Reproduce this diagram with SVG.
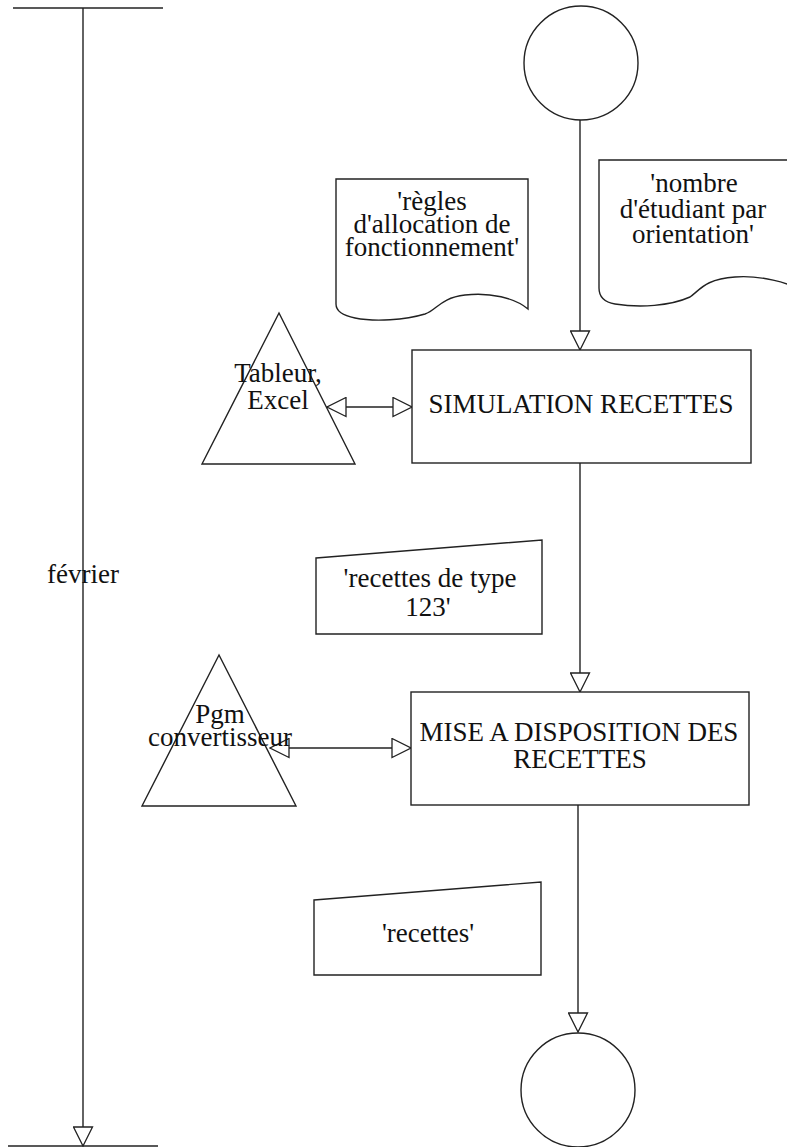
<svg xmlns="http://www.w3.org/2000/svg" width="787" height="1147" viewBox="0 0 787 1147">
<defs>
<marker id="arr" viewBox="-1 -1 21 21" refX="19" refY="9.5" markerWidth="21" markerHeight="21" orient="auto-start-reverse" markerUnits="userSpaceOnUse">
<path d="M0,0 L19,9.5 L0,19 Z" fill="#fff" stroke="#222" stroke-width="1.3"/>
</marker>
</defs>
<style>
.s{fill:#fff;stroke:#222;stroke-width:1.4}
.l{fill:none;stroke:#222;stroke-width:1.4}
text{font-family:"Liberation Serif","Times New Roman",serif;font-size:27px;fill:#111;text-anchor:middle}
</style>
<rect width="787" height="1147" fill="#fff"/>
<g id="connectors">
<line class="l" x1="13" y1="8" x2="163" y2="8"/>
<line class="l" x1="8" y1="1146" x2="158" y2="1146"/>
<line class="l" x1="83" y1="8" x2="83" y2="1146" marker-end="url(#arr)"/>
<line class="l" x1="580" y1="120" x2="580" y2="350" marker-end="url(#arr)"/>
<line class="l" x1="327" y1="407" x2="412" y2="407" marker-start="url(#arr)" marker-end="url(#arr)"/>
<line class="l" x1="580" y1="463" x2="580" y2="692" marker-end="url(#arr)"/>
<line class="l" x1="270" y1="748" x2="411" y2="748" marker-start="url(#arr)" marker-end="url(#arr)"/>
<line class="l" x1="578" y1="805" x2="578" y2="1032" marker-end="url(#arr)"/>
</g>
<g id="timeline-label"><text x="83" y="583">février</text></g>
<g id="start"><circle class="s" cx="581" cy="63" r="57"/></g>
<g id="doc-regles">
<path class="s" d="M336,179 H528 V309 C515,298 490,292 465,295 C440,298 437,310 425,314 C405,320 375,322 355,318 C340,315 336,310 336,304 Z"/>
<text x="432" y="210">'règles</text>
<text x="432" y="233">d'allocation de</text>
<text x="432" y="256">fonctionnement'</text>
</g>
<g id="doc-nombre">
<path class="s" d="M599,160 H800 V290 C790,283 760,275 735,277 C705,279 700,290 690,297 C670,306 640,308 615,304 C603,302 599,296 599,288 Z"/>
<text x="694" y="192">'nombre</text>
<text x="693" y="218">d'étudiant par</text>
<text x="693" y="243">orientation'</text>
</g>
<g id="tool-tableur">
<polygon class="s" points="279,313 202,464 355,464"/>
<text x="278" y="382">Tableur,</text>
<text x="278" y="409">Excel</text>
</g>
<g id="simulation">
<rect class="s" x="412" y="350" width="339" height="113"/>
<text x="581" y="413">SIMULATION RECETTES</text>
</g>
<g id="data-123">
<polygon class="s" points="316,558 542,540 542,634 316,634"/>
<text x="430" y="587">'recettes de type</text>
<text x="428" y="616">123'</text>
</g>
<g id="tool-pgm">
<polygon class="s" points="219,655 142,806 296,806"/>
<text x="220" y="723">Pgm</text>
<text x="220" y="746">convertisseur</text>
</g>
<g id="mise">
<rect class="s" x="411" y="692" width="338" height="113"/>
<text x="579" y="741">MISE A DISPOSITION DES</text>
<text x="580" y="768">RECETTES</text>
</g>
<g id="data-recettes">
<polygon class="s" points="314,900 541,882 541,975 314,975"/>
<text x="428" y="942">'recettes'</text>
</g>
<g id="end"><circle class="s" cx="578" cy="1090" r="57"/></g>
</svg>
